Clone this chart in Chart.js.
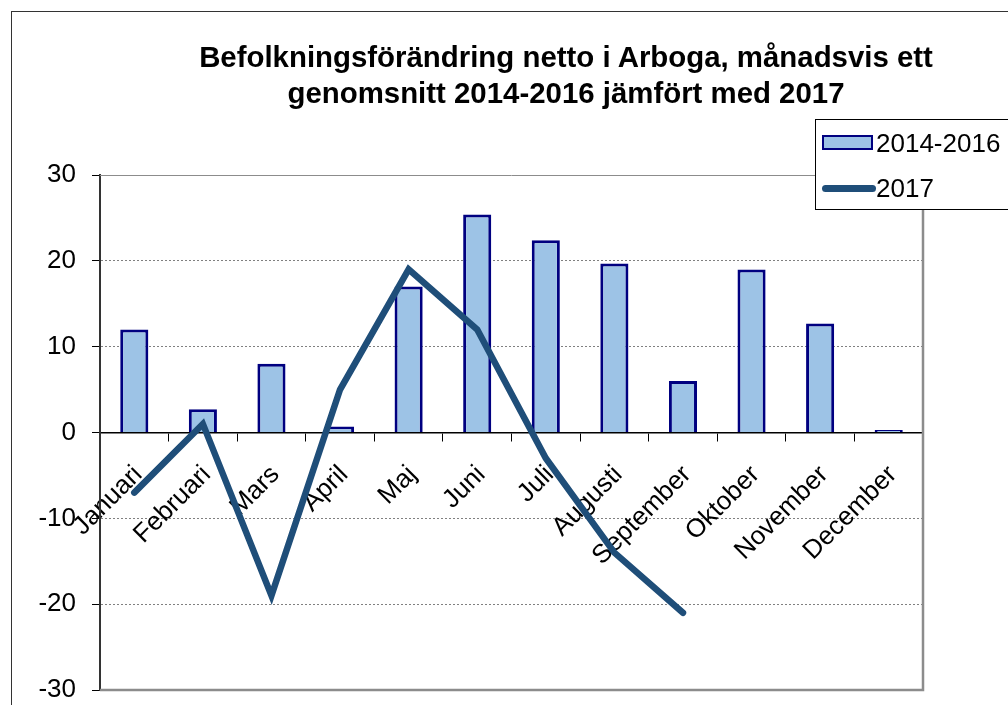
<!DOCTYPE html>
<html><head><meta charset="utf-8">
<script src="https://cdn.jsdelivr.net/npm/chart.js@4.4.0/dist/chart.umd.min.js"></script>
<style>
html,body{margin:0;padding:0;background:#fff;}
#wrap{position:relative;width:1008px;height:705px;overflow:hidden;font-family:"Liberation Sans",Arial,sans-serif;background:#fff;}
#frame{position:absolute;left:11px;top:11px;width:1100px;height:800px;border-left:1px solid #333;border-top:1px solid #333;}
canvas{position:absolute;left:0;top:0;}
#title{position:absolute;left:0;top:39px;width:1132px;text-align:center;font-weight:bold;font-size:29.4px;line-height:36px;color:#000;}
#legend{position:absolute;left:815px;top:119px;width:250px;height:89px;border:1px solid #000;background:#fff;}
#legend .sw1{position:absolute;left:6px;top:15px;width:51px;height:15px;box-sizing:border-box;background:#9DC3E6;border:2.5px solid #000080;}
#legend .sw2{position:absolute;left:6px;top:65px;width:54px;height:7px;border-radius:3.5px;background:#1F4E79;}
#legend .t{position:absolute;left:60px;height:28px;line-height:28px;font-size:26px;color:#000;white-space:nowrap;}
</style></head>
<body>
<div id="wrap">
<canvas id="c" width="1008" height="705"></canvas>
<div id="frame"></div>
<div id="title">Befolkningsförändring netto i Arboga, månadsvis ett<br>genomsnitt 2014-2016 jämfört med 2017</div>
<div id="legend">
  <div class="sw1"></div><div class="t" style="top:9px">2014-2016</div>
  <div class="sw2"></div><div class="t" style="top:54px">2017</div>
</div>
</div>
<script>
const categories = ['Januari','Februari','Mars','April','Maj','Juni','Juli','Augusti','September','Oktober','November','December'];
const avg2014_2016 = [12, 2.7, 8, 0.7, 17, 25.4, 22.4, 19.7, 6, 19, 12.7, 0.3];
const values2017 = [-7, 1, -19, 5, 19, 12, -3, -14, -21, null, null, null];
const yMin = -30, yMax = 30, yStep = 10;

const FONT = 'Liberation Sans, Arial, sans-serif';

const plotBorder = {
  id: 'plotBorder',
  beforeDatasetsDraw(chart) {
    const {ctx, chartArea: a} = chart;
    ctx.save();
    ctx.strokeStyle = '#8c8c8c';
    ctx.lineWidth = 1;
    ctx.beginPath(); ctx.moveTo(a.left, a.top + 0.5); ctx.lineTo(a.right, a.top + 0.5); ctx.stroke();
    ctx.lineWidth = 2.5;
    ctx.beginPath(); ctx.moveTo(a.right, a.top); ctx.lineTo(a.right, a.bottom); ctx.lineTo(a.left, a.bottom); ctx.stroke();
    ctx.restore();
  }
};

new Chart(document.getElementById('c'), {
  data: {
    labels: categories,
    datasets: [
      {type: 'line', label: '2017', data: values2017, borderColor: '#1F4E79', backgroundColor: '#1F4E79',
       borderWidth: 6.5, pointRadius: 0, tension: 0, borderCapStyle: 'round', borderJoinStyle: 'miter', order: 1},
      {type: 'bar', label: '2014-2016', data: avg2014_2016, backgroundColor: '#9DC3E6', borderColor: '#000080',
       borderWidth: 3, categoryPercentage: 1, barPercentage: 0.41, order: 2}
    ]
  },
  options: {
    responsive: false,
    animation: false,
    devicePixelRatio: 1,
    layout: {padding: {left: 0, right: 85, top: 175, bottom: 15}},
    plugins: {legend: {display: false}, tooltip: {enabled: false}, title: {display: false}},
    scales: {
      x: {
        type: 'category', position: {y: 0}, offset: true,
        grid: {display: true, drawOnChartArea: false, drawTicks: true, tickLength: 8, offset: true, tickColor: '#000', tickWidth: 1},
        border: {display: true, color: '#000', width: 1.5},
        ticks: {minRotation: 45, maxRotation: 45, autoSkip: false, padding: 19, labelOffset: 4, color: '#000', font: {family: FONT, size: 26}},
        afterFit: (s) => { s.paddingBottom = 0; s.paddingTop = 0; }
      },
      y: {
        min: yMin, max: yMax,
        ticks: {stepSize: yStep, padding: 16, color: '#000', font: {family: FONT, size: 26}},
        grid: {
          color: (c) => (c.tick && (c.tick.value === 0 || c.tick.value === yMin || c.tick.value === yMax)) ? 'rgba(0,0,0,0)' : '#808080',
          lineWidth: 1, tickLength: 8, tickColor: '#000', tickWidth: 1, borderDash: [2, 2]
        },
        border: {display: true, color: '#333', width: 2, dash: [2, 2]},
        afterFit: (s) => { s.width = 100; s.paddingBottom = 0; }
      }
    }
  },
  plugins: [plotBorder]
});
</script>
</body></html>
